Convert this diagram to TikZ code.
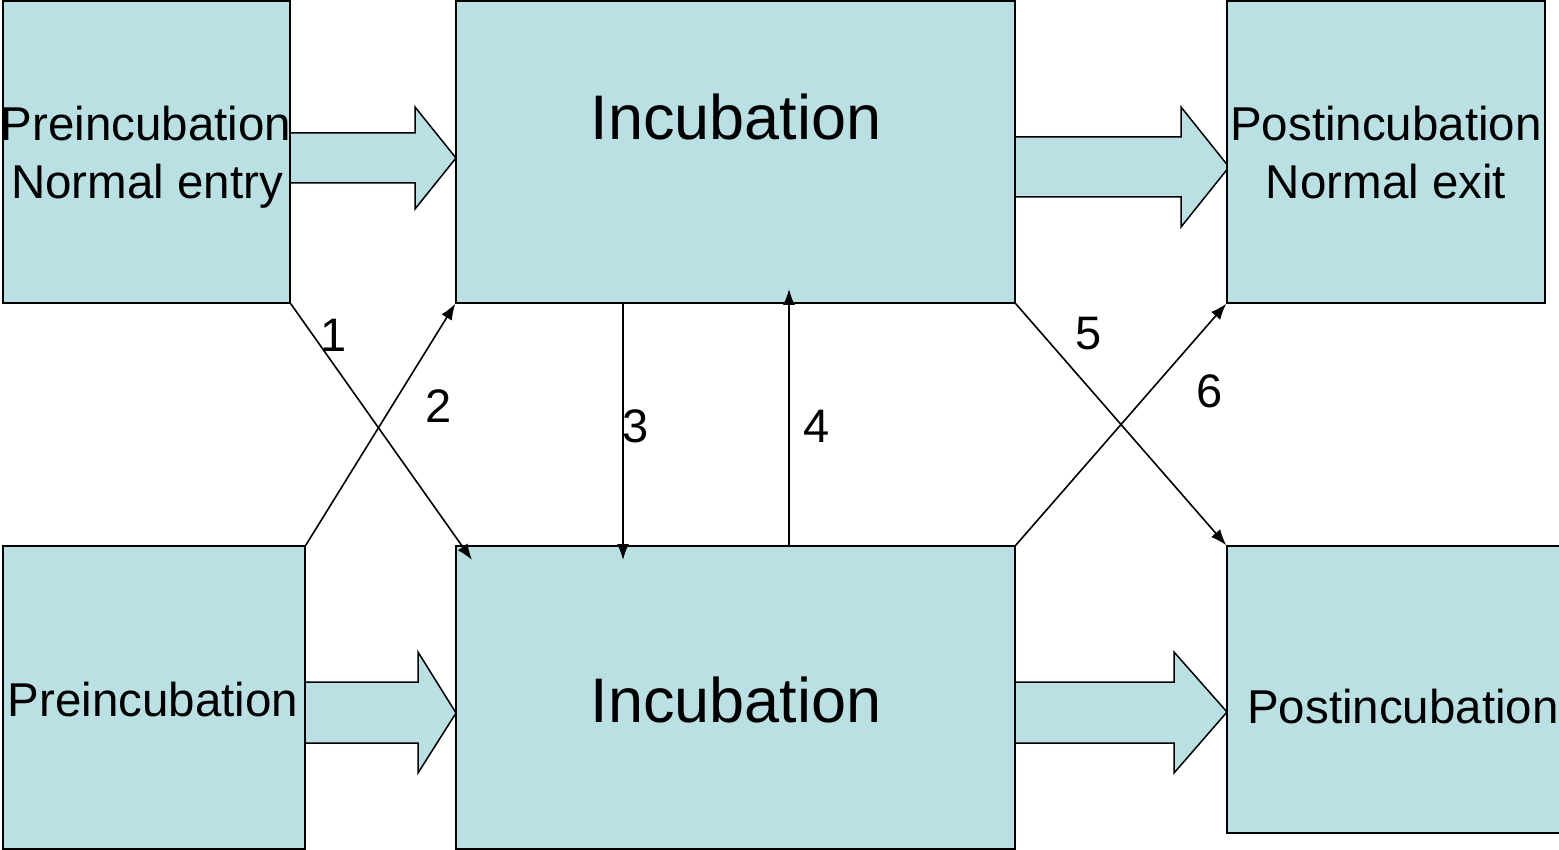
\documentclass[tikz,border=0pt]{standalone}
\usepackage{fontspec}
\setmainfont{Liberation Sans}
\usetikzlibrary{arrows.meta,calc}
\definecolor{boxfill}{HTML}{BBE0E3}
\tikzset{
  box/.style={draw=black, line width=1.5pt, fill=boxfill, inner sep=0pt},
  blockarrow/.style={draw=black, line width=1.5pt, fill=boxfill, line join=miter},
  lbl/.style={anchor=base, inner sep=0pt, font=\fontsize{47.5}{52}\selectfont},
  biglbl/.style={anchor=base, inner sep=0pt, font=\fontsize{63}{70}\selectfont},
  num/.style={anchor=base, inner sep=0pt, font=\fontsize{47}{52}\selectfont},
  conn/.style={draw=black, line width=1.6pt, -{Latex[length=16pt,width=12pt]}}
}
\begin{document}
\begin{tikzpicture}[x=1pt,y=-1pt]
\useasboundingbox (0,0) rectangle (1559,850);
% block arrows
\path[blockarrow] (290,133) -- (415,133) -- (415,107) -- (456,158) -- (415,209) -- (415,183) -- (290,183) -- cycle;
\path[blockarrow] (1015,137) -- (1181,137) -- (1181,107) -- (1229,167) -- (1181,227) -- (1181,197) -- (1015,197) -- cycle;
\path[blockarrow] (305,682) -- (418,682) -- (418,652) -- (456,713) -- (418,773) -- (418,743) -- (305,743) -- cycle;
\path[blockarrow] (1015,682) -- (1174,682) -- (1174,652) -- (1227,712) -- (1174,773) -- (1174,743) -- (1015,743) -- cycle;
% boxes
\node[box, minimum width=287pt, minimum height=302pt] (tl) at (146.5,152) {};
\node[box, minimum width=559pt, minimum height=302pt] (tm) at (735.5,152) {};
\node[box, minimum width=318pt, minimum height=302pt] (tr) at (1386,152) {};
\node[box, minimum width=302pt, minimum height=303pt] (bl) at (154,697.5) {};
\node[box, minimum width=559pt, minimum height=303pt] (bm) at (735.5,697.5) {};
\node[box, minimum width=348pt, minimum height=287pt] (br) at (1401,689.5) {};
% texts
\node[lbl] (tl1) at (146,141) {Preincubation};
\node[lbl] (tl2) at (147,199) {Normal entry};
\node[biglbl] (tmt) at (736,140) {Incubation};
\node[lbl] (tr1) at (1386,141) {Postincubation};
\node[lbl] (tr2) at (1386,199) {Normal exit};
\node[lbl] (blt) at (153,716) {Preincubation};
\node[biglbl] (bmt) at (736,722) {Incubation};
\node[lbl] (brt) at (1403,723) {Postincubation};
% connector end points
\coordinate (c1e) at (472,560);
\coordinate (c3s) at (623,303);
\coordinate (c3e) at (623,560);
\coordinate (c4s) at (789,546);
\coordinate (c4e) at (789,289);
% connectors
\draw[conn] (tl.south east) -- (c1e);
\draw[conn] (bl.north east) -- (tm.south west);
\draw[conn] (c3s) -- (c3e);
\draw[conn] (c4s) -- (c4e);
\draw[conn] (tm.south east) -- (br.north west);
\draw[conn] (bm.north east) -- (tr.south west);
% numbers
\node[num] (n1) at (334,352) {1};
\node[num] (n2) at (439,422) {2};
\node[num] (n3) at (636,442) {3};
\node[num] (n4) at (817,442) {4};
\node[num] (n5) at (1089,350) {5};
\node[num] (n6) at (1210,407) {6};
\end{tikzpicture}
\end{document}
